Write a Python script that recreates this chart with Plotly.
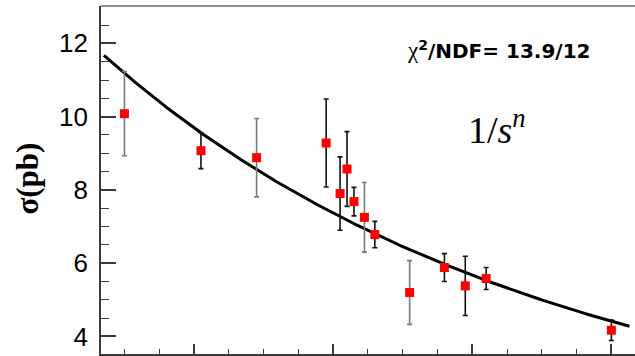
import numpy as np
import plotly.graph_objects as go

# Centre-of-mass energies (GeV) and measured cross sections (pb)
sqrt_s = [3.900, 4.010, 4.090, 4.190, 4.210, 4.220, 4.230, 4.245,
          4.260, 4.310, 4.360, 4.390, 4.420, 4.600]
sigma_pb = [10.08, 9.07, 8.88, 9.28, 7.90, 8.57, 7.68, 7.25,
            6.78, 5.20, 5.88, 5.38, 5.58, 4.17]
sigma_err = [1.15, 0.49, 1.07, 1.20, 1.00, 1.02, 0.39, 0.95,
             0.36, 0.87, 0.38, 0.81, 0.30, 0.28]
# points whose uncertainty bars are drawn in grey
grey_bar = [True, False, True, False, False, False, False, True,
            False, True, False, False, False, False]

# fitted 1/s^n parameters
fit_A = 2.378e4
fit_n = 2.815
fit_lo, fit_hi = 3.8705, 4.626
chi2_text = "13.9/12"

y_ticks = [4, 6, 8, 10, 12]

fig = go.Figure()

# fit curve sigma = A / s^n
xf = np.linspace(fit_lo, fit_hi, 300)
yf = fit_A / (xf ** 2) ** fit_n
fig.add_trace(go.Scatter(x=xf, y=yf, mode="lines",
                         line=dict(color="black", width=3),
                         hoverinfo="skip", showlegend=False))

for grey, bar_col in ((True, "#7a7a7a"), (False, "#111111")):
    xs = [x for x, g in zip(sqrt_s, grey_bar) if g == grey]
    ys = [y for y, g in zip(sigma_pb, grey_bar) if g == grey]
    es = [e for e, g in zip(sigma_err, grey_bar) if g == grey]
    fig.add_trace(go.Scatter(
        x=xs, y=ys, mode="markers",
        marker=dict(symbol="square", size=9, color="#ff0000",
                    line=dict(width=0)),
        error_y=dict(type="data", array=es, visible=True,
                     color=bar_col, thickness=1.6, width=2.5),
        showlegend=False))

axis_col = "#3a3a3a"
fig.update_xaxes(range=[3.8663, 4.634], showgrid=False, zeroline=False,
                 showline=True, linecolor=axis_col, linewidth=2.5,
                 ticks="inside", ticklen=10, tickwidth=1.5, tickcolor=axis_col,
                 tick0=4.0, dtick=0.2, showticklabels=False,
                 minor=dict(dtick=0.05, ticks="inside", ticklen=5,
                            tickwidth=1.3, tickcolor=axis_col))
fig.update_yaxes(range=[3.52, 13.02], showgrid=False, zeroline=False,
                 showline=True, linecolor=axis_col, linewidth=1.6,
                 ticks="inside", ticklen=15, tickwidth=1.5, tickcolor=axis_col,
                 tickmode="array", tickvals=y_ticks,
                 ticktext=[str(v) for v in y_ticks],
                 tickfont=dict(family="Liberation Sans", size=26, color="black"),
                 ticklabelstandoff=6,
                 minor=dict(dtick=0.5, ticks="inside", ticklen=8,
                            tickwidth=1.3, tickcolor=axis_col))

# top frame edge
fig.add_shape(type="line", xref="paper", yref="paper", x0=0, x1=1, y0=1, y1=1,
              line=dict(color="#6a6a6a", width=1.5))

fig.add_annotation(xref="paper", yref="paper", x=-0.1367, y=0.504,
                   xanchor="center", yanchor="middle",
                   text="<b>σ(pb)</b>", textangle=-90, showarrow=False,
                   font=dict(family="Liberation Serif", size=31, color="black"))
fig.add_annotation(xref="paper", yref="paper", x=0.744, y=0.873,
                   xanchor="center", yanchor="middle",
                   text="<span style=\"font-family:'Liberation Serif';font-size:23px\">χ</span>"
                        "<b><sup>2</sup>/NDF= " + chi2_text + "</b>",
                   showarrow=False,
                   font=dict(family="DejaVu Sans", size=20, color="black"))
fig.add_annotation(xref="paper", yref="paper", x=0.7416, y=0.652,
                   xanchor="center", yanchor="middle",
                   text="1/<i>s</i><sup><i>n</i></sup>", showarrow=False,
                   font=dict(family="Liberation Serif", size=38, color="black"))

fig.update_layout(width=635, height=356,
                  margin=dict(l=101, r=0, t=6, b=2),
                  plot_bgcolor="white", paper_bgcolor="white")

fig.write_html("out.html")
